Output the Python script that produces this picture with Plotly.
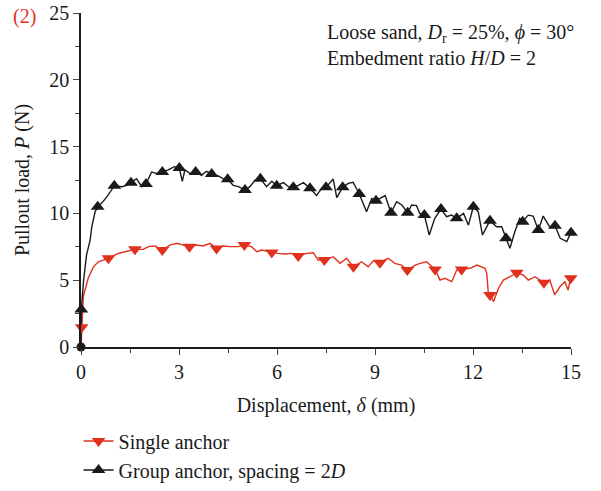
import plotly.graph_objects as go

# ---- data ----
# Single anchor (red) line
single_x = [0, 0.02, 0.07, 0.22, 0.38, 0.53, 0.84, 1.14, 1.35, 1.65, 1.91, 2.06, 2.27, 2.49, 2.72, 2.93,
            3.13, 3.32, 3.54, 3.74, 3.95, 4.15, 4.36, 4.56, 4.82, 5.0, 5.22, 5.38, 5.53, 5.84, 6.04,
            6.24, 6.45, 6.65, 6.91, 7.11, 7.26, 7.45, 7.72, 7.93, 8.13, 8.34, 8.59, 8.79, 8.95, 9.15,
            9.4, 9.61, 9.81, 9.99, 10.23, 10.38, 10.58, 10.84, 10.99, 11.14, 11.35, 11.5, 11.65,
            11.91, 12.12, 12.37, 12.42, 12.47, 12.52, 12.63, 12.78, 12.93, 13.13, 13.34, 13.54,
            13.69, 13.9, 14.05, 14.17, 14.35, 14.5, 14.66, 14.81, 14.91, 14.99]
single_y = [0, 1.47, 3.77, 5.14, 6.0, 6.38, 6.64, 7.0, 7.13, 7.31, 7.31, 7.51, 7.56, 7.26, 7.63, 7.76,
            7.63, 7.51, 7.63, 7.56, 7.76, 7.38, 7.56, 7.51, 7.51, 7.63, 7.51, 7.13, 7.26, 7.08, 7.01,
            6.96, 7.01, 6.81, 7.01, 7.06, 6.51, 6.51, 6.76, 6.26, 6.64, 6.0, 6.38, 6.0, 6.46, 6.31,
            6.64, 6.26, 6.13, 5.76, 6.13, 6.26, 6.38, 5.81, 5.01, 5.14, 4.89, 5.76, 5.81,
            5.89, 6.13, 5.89, 5.51, 4.01, 3.9, 3.4, 4.4, 5.01, 5.26, 5.56, 5.39,
            5.01, 5.26, 5.01, 4.81, 5.01, 3.9, 4.51, 4.89, 4.26, 5.14]
single_mx = [0.02, 0.84, 1.65, 2.49, 3.32, 4.15, 5.0, 5.84, 6.65, 7.45, 8.34, 9.15, 9.99,
             10.84, 11.65, 12.52, 13.34, 14.17, 14.99]
single_my = [1.47, 6.64, 7.31, 7.26, 7.51, 7.38, 7.63, 7.08, 6.81, 6.51, 6.0, 6.31, 5.76,
             5.81, 5.81, 3.9, 5.56, 4.81, 5.14]

# Group anchor, spacing = 2D (black) line
group_x = [0, 0.01, 0.08, 0.17, 0.28, 0.33, 0.43, 0.51, 0.68, 0.84, 1.02, 1.25, 1.4, 1.53, 1.7, 1.86,
           1.99, 2.16, 2.31, 2.49, 2.67, 2.86, 3.01, 3.1, 3.18, 3.33, 3.51, 3.69, 3.84, 4.0, 4.2,
           4.35, 4.49, 4.66, 4.82, 5.02, 5.17, 5.33, 5.49, 5.68, 5.84, 5.99, 6.2, 6.35, 6.5, 6.65,
           6.81, 7.01, 7.21, 7.37, 7.5, 7.72, 7.83, 8.01, 8.18, 8.33, 8.52, 8.74, 8.9, 9.03, 9.15,
           9.31, 9.49, 9.66, 9.82, 10.0, 10.12, 10.27, 10.37, 10.51, 10.66, 10.83, 11.02, 11.19,
           11.34, 11.5, 11.71, 11.86, 12.01, 12.16, 12.29, 12.52, 12.72, 12.88, 13.01, 13.13,
           13.28, 13.43, 13.52, 13.69, 13.84, 14.0, 14.15, 14.36, 14.51, 14.67, 14.87, 15.0]
group_y = [0, 2.8, 5.0, 6.9, 8.0, 9.0, 10.1, 10.5, 10.9, 11.4, 12.07, 12.0, 12.1, 12.3, 12.6, 12.0,
           12.2, 13.1, 13.0, 13.1, 13.25, 13.5, 13.4, 12.4, 13.25, 13.0, 13.1, 12.85, 13.15, 12.95, 12.8,
           12.6, 12.55, 12.1, 12.0, 11.75, 12.0, 12.5, 12.6, 12.0, 12.4, 12.07, 12.3, 12.0, 11.95, 12.1,
           12.3, 11.88, 11.35, 11.88, 11.95, 12.57, 11.18, 11.95, 12.25, 12.33, 11.45, 10.13, 11.12, 10.95, 11.12,
           11.33, 10.05, 10.88, 10.63, 10.05, 10.63, 10.58, 10.0, 9.88, 8.38, 9.63, 10.33, 9.75,
           9.88, 9.63, 10.0, 9.12, 10.5, 10.13, 8.38, 9.45, 9.0, 9.0, 8.14, 7.39,
           8.63, 9.63, 9.38, 9.87, 9.8, 8.76, 9.8, 8.93, 9.08, 8.14, 7.89, 8.56]
group_mx = [0, 0.01, 0.51, 1.02, 1.53, 1.99, 2.49, 3.01, 3.51, 4.0, 4.49, 5.02, 5.49, 5.99, 6.5,
            7.01, 7.5, 8.01, 8.52, 9.03, 9.49, 10.0, 10.51, 11.02, 11.5, 12.01, 12.52, 13.01,
            13.52, 14.0, 14.51, 15.0]
group_my = [0, 2.8, 10.5, 12.07, 12.3, 12.2, 13.1, 13.4, 13.1, 12.95, 12.55, 11.75, 12.6, 12.07, 11.95,
            11.88, 11.95, 11.95, 11.45, 10.95, 10.05, 10.05, 9.88, 10.33, 9.63, 10.5, 9.45, 8.14,
            9.38, 8.76, 9.08, 8.56]

x_ticks = [0, 3, 6, 9, 12, 15]
y_ticks = [0, 5, 10, 15, 20, 25]
series_names = ["Single anchor", "Group anchor, spacing = 2<i>D</i>"]

RED = "#e0301e"
BLACK = "#1a1a1a"
FONT = "Liberation Serif"
FS = 20
MS = 12

series = [
    (single_x, single_y, single_mx, single_my, series_names[0], RED, "triangle-down"),
    (group_x, group_y, group_mx, group_my, series_names[1], BLACK, "triangle-up"),
]

fig = go.Figure()

# lines first, then markers (black markers on top, as in the reference)
for (lx, ly, mx, my, name, color, sym) in series:
    fig.add_trace(go.Scatter(x=lx, y=ly, mode="lines", line=dict(color=color, width=1.4),
                             showlegend=False, cliponaxis=False, hoverinfo="skip"))
for (lx, ly, mx, my, name, color, sym) in series:
    syms = [("circle" if (xx == 0 and yy == 0) else sym) for xx, yy in zip(mx, my)]
    sizes = [(9 if (xx == 0 and yy == 0) else MS) for xx, yy in zip(mx, my)]
    fig.add_trace(go.Scatter(x=mx, y=my, mode="markers",
                             marker=dict(symbol=syms, size=sizes, color=color, opacity=1,
                                         line=dict(width=0, color=color)),
                             showlegend=False, cliponaxis=False))
for (lx, ly, mx, my, name, color, sym) in series:
    fig.add_trace(go.Scatter(x=[None], y=[None], mode="lines+markers", name=name,
                             line=dict(color=color, width=1.4),
                             marker=dict(symbol=sym, size=MS, color=color)))

fig.update_layout(
    width=601, height=491,
    margin=dict(l=81, r=30, t=13, b=144, autoexpand=False),
    paper_bgcolor="white", plot_bgcolor="white",
    font=dict(family=FONT, size=FS, color=BLACK),
    showlegend=True,
    legend=dict(x=-0.005, y=-0.223, xanchor="left", yanchor="top",
                font=dict(family=FONT, size=FS, color=BLACK),
                bgcolor="rgba(0,0,0,0)", tracegroupgap=0),
    xaxis=dict(range=[0, 15], tickvals=x_ticks, ticks="outside", ticklen=6, tickwidth=1.3,
               showline=True, linecolor=BLACK, linewidth=1.5, showgrid=False, zeroline=False,
               tickfont=dict(family=FONT, size=FS, color=BLACK),
               minor=dict(ticks="outside", ticklen=4, dtick=1.5, tick0=0, tickwidth=1.3, showgrid=False),
               title=dict(text="Displacement, <i>δ</i> (mm)", font=dict(family=FONT, size=FS), standoff=16)),
    yaxis=dict(range=[0, 25], tickvals=y_ticks, ticks="outside", ticklen=6, tickwidth=1.3,
               showline=True, linecolor=BLACK, linewidth=1.5, showgrid=False, zeroline=False,
               tickfont=dict(family=FONT, size=FS, color=BLACK),
               minor=dict(ticks="outside", ticklen=4, dtick=2.5, tick0=0, tickwidth=1.3, showgrid=False),
               title=dict(text="Pullout load, <i>P</i> (N)", font=dict(family=FONT, size=FS), standoff=14)),
    annotations=[
        dict(text="(2)", x=(11 - 81) / 490, y=(347 - 16) / 334, xref="paper", yref="paper", showarrow=False,
             font=dict(family=FONT, size=FS, color=RED), xanchor="left", yanchor="middle"),
        dict(text="Loose sand, <i>D</i><sub>r</sub> = 25%, <i>ϕ</i> = 30°<br>Embedment ratio <i>H</i>/<i>D</i> = 2",
             x=(325 - 81) / 490, y=(347 - 19) / 334, xref="paper", yref="paper", showarrow=False, align="left",
             xanchor="left", yanchor="top", font=dict(family=FONT, size=FS, color=BLACK)),
    ],
)

fig.write_html("out.html")
